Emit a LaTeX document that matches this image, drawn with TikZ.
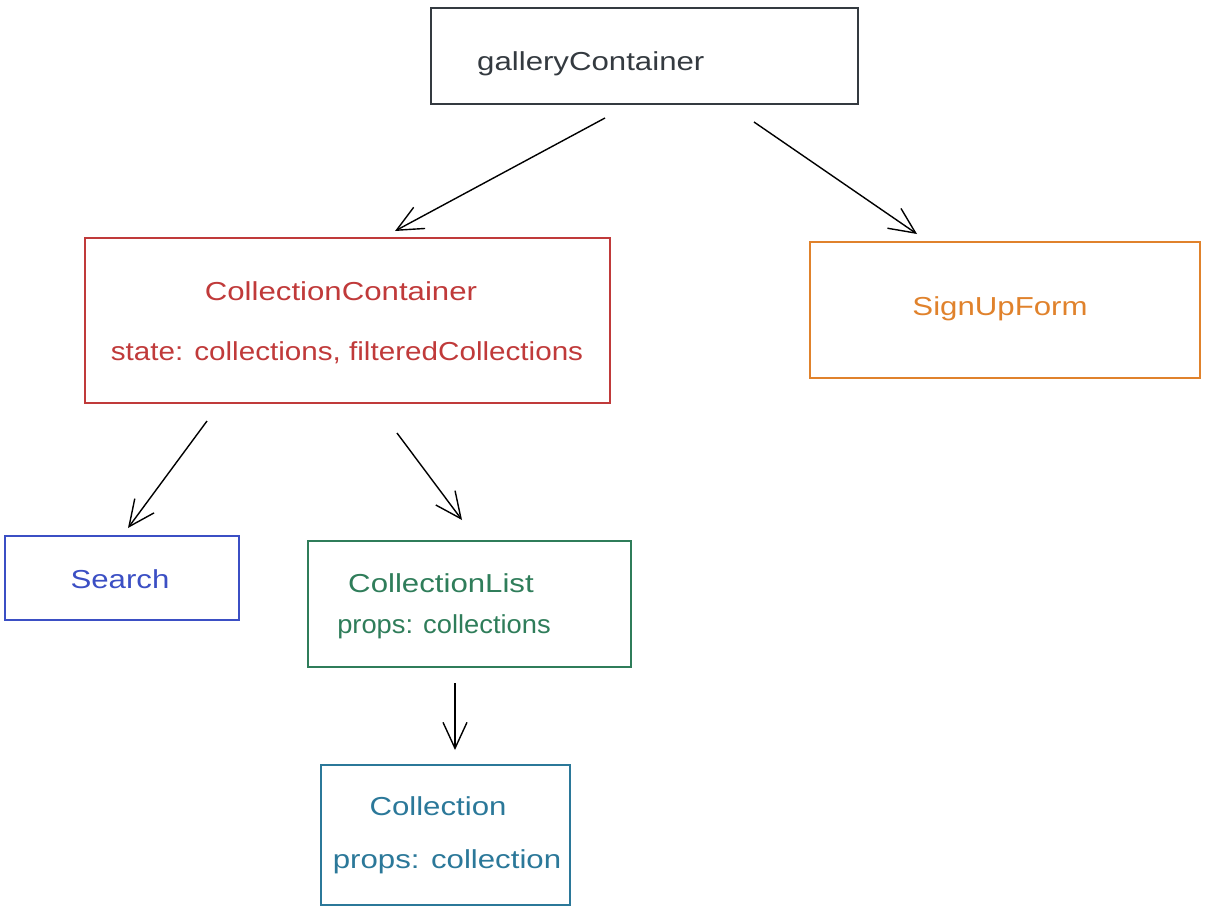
\documentclass[tikz,border=0pt]{standalone}
\usepackage{fontspec}
\setmainfont{Liberation Sans}
\usetikzlibrary{arrows.meta}
\definecolor{cgray}{HTML}{343A40}
\definecolor{cred}{HTML}{C03A3A}
\definecolor{corange}{HTML}{E0822C}
\definecolor{cblue}{HTML}{3B4FC4}
\definecolor{cgreen}{HTML}{2F7D5A}
\definecolor{cteal}{HTML}{2B7899}
\newcommand\hw[2][1.2]{\scalebox{#1}[1]{#2}}
\tikzset{
  box/.style={draw=#1, line width=1.2pt, minimum width=0pt, minimum height=0pt, inner sep=0pt},
  lbl/.style={text=#1, font=\fontsize{26}{30}\selectfont, inner sep=0pt},
  conn/.style={draw=black, line width=1.4pt, -{Straight Barb[length=26pt,width=24pt,line width=1.4pt]}}
}
\begin{document}
\begin{tikzpicture}[x=1pt,y=-1pt]
\useasboundingbox (0,0) rectangle (1205,913);
% boxes
\node[box=cgray, minimum width=427pt, minimum height=96pt] (gc) at (644.5,56) {};
\node[box=cred, minimum width=525pt, minimum height=165pt] (cc) at (347.5,320.5) {};
\node[box=corange, minimum width=390pt, minimum height=136pt] (su) at (1005,310) {};
\node[box=cblue, minimum width=234pt, minimum height=84pt] (se) at (122,578) {};
\node[box=cgreen, minimum width=323pt, minimum height=126pt] (cl) at (469.5,604) {};
\node[box=cteal, minimum width=249pt, minimum height=140pt] (co) at (445.5,835) {};
% labels
\node[lbl=cgray, anchor=west] (t1) at (477,64) {\hw{galleryContainer}};
\node[lbl=cred] (t2) at (341,291) {\hw{CollectionContainer}};
\node[lbl=cred] (t3) at (347,353) {\hw[1.14]{state: collections, filteredCollections}};
\node[lbl=corange] (t4) at (1000,309) {\hw{SignUpForm}};
\node[lbl=cblue] (t5) at (120,579) {\hw{Search}};
\node[lbl=cgreen] (t6) at (441,583) {\hw{CollectionList}};
\node[lbl=cgreen] (t7) at (444,627) {\hw[1.05]{props: collections}};
\node[lbl=cteal] (t8) at (438,806) {\hw{Collection}};
\node[lbl=cteal] (t9) at (447,862) {\hw{props: collection}};
% connector ends
\coordinate (a1s) at (605,118); \coordinate (a1e) at (395,231);
\coordinate (a2s) at (754,122); \coordinate (a2e) at (917,234);
\coordinate (a3s) at (207,421); \coordinate (a3e) at (128,528);
\coordinate (a4s) at (397,433); \coordinate (a4e) at (462,520);
\coordinate (a5s) at (455,683); \coordinate (a5e) at (455,750);
\draw[conn] (a1s) -- (a1e);
\draw[conn] (a2s) -- (a2e);
\draw[conn] (a3s) -- (a3e);
\draw[conn] (a4s) -- (a4e);
\draw[conn] (a5s) -- (a5e);
\end{tikzpicture}
\end{document}
